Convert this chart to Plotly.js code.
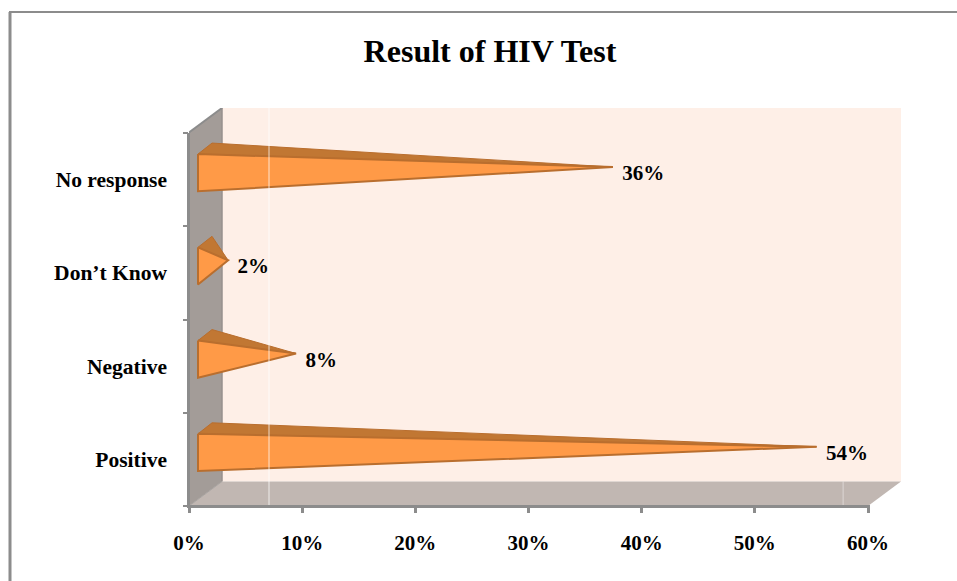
<!DOCTYPE html>
<html><head><meta charset="utf-8">
<script src="https://cdn.plot.ly/plotly-3.0.1.min.js"></script>
<style>html,body{margin:0;padding:0;background:#fff;overflow:hidden}#c{width:957px;height:581px}</style>
</head><body><div id="c"></div>
<script>
const categories = ["Positive", "Negative", "Don’t Know", "No response"];
const values = [54, 8, 2, 36];
const dataLabels = ["54%", "8%", "2%", "36%"];
const xTicks = [0, 10, 20, 30, 40, 50, 60];
const xTickLabels = ["0%", "10%", "20%", "30%", "40%", "50%", "60%"];
const yBoundaryTicks = [-0.5, 0.5, 1.5, 2.5, 3.5];

const serif = '"Liberation Serif","Times New Roman",serif';
const pxX = 11.317, pxY = 93.25;
const L = 189, T = 108, W = 712, H = 398;
const xMax = W / pxX, yMin = -0.5, yMax = yMin + H / pxY;
const dx = 33 / pxX, dy = 24.5 / pxY;
const axisGray = '#8c8c8c';

function poly(x, y, fill, line, width) {
  return {type:'scatter', mode:'lines', x, y, fill:'toself', fillcolor:fill,
    line:{color:line||fill, width:width||0.01}, hoverinfo:'skip', showlegend:false, cliponaxis:false};
}
function seg(x, y, color, width) {
  return {type:'scatter', mode:'lines', x, y, line:{color, width}, hoverinfo:'skip', showlegend:false, cliponaxis:false};
}
const traces = [];
// back wall, floor, side wall
traces.push(poly([dx, xMax, xMax, dx, dx], [yMin+dy, yMin+dy, yMax, yMax, yMin+dy], '#FEEFE7'));
traces.push(poly([0, 60, 60+dx, dx, 0], [yMin, yMin, yMin+dy, yMin+dy, yMin], '#C1B7B2'));
traces.push(poly([0, dx, dx, 0, 0], [yMin, yMin+dy, yMax, yMax-dy, yMin], '#A39C98'));
traces.push(seg([dx, dx], [yMin+dy, yMax], '#97918e', 1.5));
traces.push(seg([0, dx], [yMin, yMin+dy], '#a8a3a0', 1));
traces.push(seg([0, dx], [yMax-dy, yMax], axisGray, 2));
// cones
const baseX = 9 / pxX, backX = 23 / pxX, tipX = 16.5 / pxX;
const edge = '#B96E2E';
values.forEach((v, i) => {
  traces.push(poly([baseX, backX, v+tipX, baseX], [i+0.274, i+0.392, i+0.135, i+0.274], '#C17733', edge, 1));
  traces.push(poly([baseX, v+tipX, baseX, baseX], [i+0.274, i+0.135, i-0.125, i+0.274], '#FF9A47', edge, 2));
});
// thin light artefact lines
traces.push(seg([7.07, 7.07], [yMin-0.02, yMax], 'rgba(255,255,255,0.75)', 1));
traces.push(seg([57.8, 57.8], [yMin-0.02, yMin+dy], 'rgba(255,255,255,0.45)', 1));
// data labels
traces.push({type:'scatter', mode:'text', x:values.map(v => v+tipX+0.83), y:values.map((v,i) => i+0.05),
  text:dataLabels, textposition:'middle right', textfont:{family:serif, size:21, weight:700, color:'#000'},
  hoverinfo:'skip', showlegend:false, cliponaxis:false});
// category labels on the overlaid axis
traces.push({type:'scatter', mode:'markers', x:values, y:[0,1,2,3], yaxis:'y2', marker:{opacity:0, size:1},
  hoverinfo:'skip', showlegend:false});

const px = v => (v - L) / W, py = v => 1 - (v - T) / H;
const layout = {
  width:957, height:581, paper_bgcolor:'#fff', plot_bgcolor:'rgba(0,0,0,0)', showlegend:false, hovermode:false,
  margin:{l:L, t:T, r:957-L-W, b:581-T-H, pad:0},
  title:{text:'Result of HIV Test', font:{family:serif, size:32, weight:700, color:'#000'},
    x:490/957, xanchor:'center', y:1-51/581, yanchor:'middle'},
  xaxis:{range:[0, xMax], tickvals:xTicks, ticktext:xTickLabels, ticks:'outside', ticklen:6, tickwidth:3, tickcolor:axisGray,
    showgrid:false, zeroline:false, showline:false, ticklabelstandoff:12,
    tickfont:{family:serif, size:21, weight:700, color:'#000'}},
  yaxis:{range:[yMin, yMax], tickvals:yBoundaryTicks, ticktext:yBoundaryTicks.map(() => ''), ticks:'outside', ticklen:5, tickwidth:2, tickcolor:axisGray,
    showgrid:false, zeroline:false, showline:false},
  yaxis2:{overlaying:'y', side:'left', range:[yMin, yMax], tickvals:[0,1,2,3], ticktext:categories, ticks:'', showgrid:false, zeroline:false, showline:false,
    ticklabelstandoff:21, tickfont:{family:serif, size:21.5, weight:700, color:'#000'}},
  shapes:[
    {type:'line', xref:'paper', yref:'paper', x0:px(10), x1:px(10), y0:py(12), y1:py(581), line:{color:axisGray, width:3}},
    {type:'line', xref:'paper', yref:'paper', x0:px(9), x1:px(957), y0:py(12), y1:py(12), line:{color:axisGray, width:2}},
    {type:'line', xref:'paper', yref:'paper', layer:'above', x0:px(188.5), x1:px(188.5), y0:py(133), y1:py(507), line:{color:axisGray, width:3}},
    {type:'line', xref:'paper', yref:'paper', layer:'above', x0:px(187), x1:px(870), y0:py(506.5), y1:py(506.5), line:{color:axisGray, width:3}}
  ]
};
Plotly.newPlot('c', traces, layout, {displayModeBar:false, staticPlot:true});
</script></body></html>
